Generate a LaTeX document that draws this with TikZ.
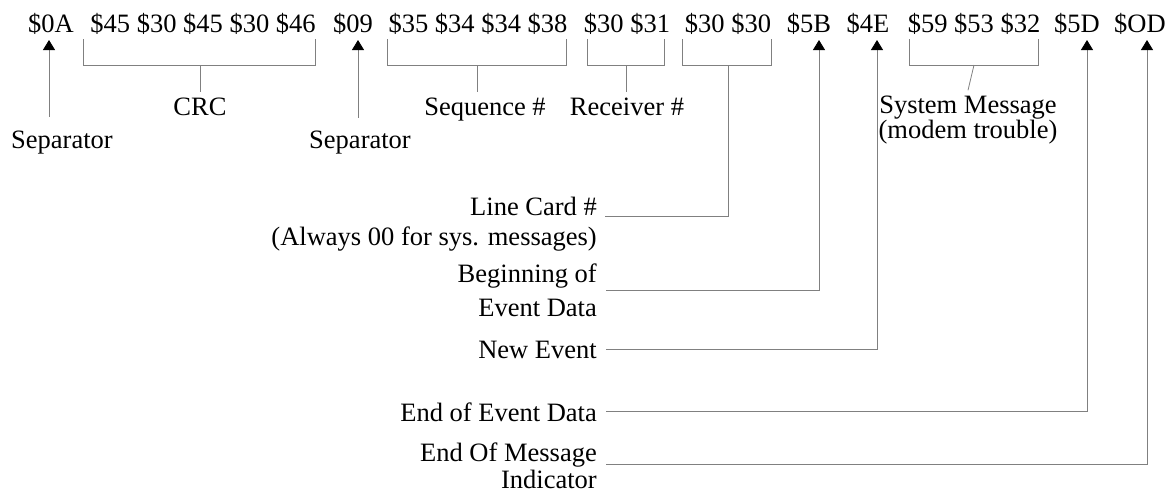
\documentclass[tikz,border=0pt]{standalone}
\usepackage{fontspec}
\setmainfont{Liberation Serif}
\usepackage{tikz}
\usetikzlibrary{arrows.meta,positioning,calc}
\definecolor{lgray}{HTML}{808080}

\begin{document}
\begin{tikzpicture}[x=1pt, y=-1pt, every node/.style={font=\fontsize{26.5}{30}\selectfont, inner sep=0pt}, hex/.style={anchor=base}, lbl/.style={anchor=base east, align=right}, ln/.style={draw=lgray, line width=0.8pt}, arr/.style={ln, {Triangle[width=12pt,length=10pt,color=black]}-}]
\useasboundingbox (0,0) rectangle (1171,493);
% message bytes
\node[hex] (h0A) at (51,32) {\$0A};
\node[hex] (crcb) at (203,32) {\$45 \$30 \$45 \$30 \$46};
\node[hex] (h09) at (353,32) {\$09};
\node[hex] (seqb) at (478,32) {\$35 \$34 \$34 \$38};
\node[hex] (rcvb) at (627,32) {\$30 \$31};
\node[hex] (lcb) at (728,32) {\$30 \$30};
\node[hex] (h5B) at (809,32) {\$5B};
\node[hex] (h4E) at (868,32) {\$4E};
\node[hex] (sysb) at (974,32) {\$59 \$53 \$32};
\node[hex] (h5D) at (1077,32) {\$5D};
\node[hex] (hOD) at (1140,32) {\$OD};
% labels under the bytes (base = last line)
\node[hex] (sep1) at (62,148) {Separator};
\node[hex] (crc) at (200,115) {CRC};
\node[hex] (sep2) at (360,148) {Separator};
\node[hex] (seq) at (485,115) {Sequence \#};
\node[hex] (rcv) at (627,115) {Receiver \#};
\node[hex, align=center] (sys) at (968,138) {System Message\\[-5pt](modem trouble)};
% labels on the left
\node[lbl] (lc) at (597,245) {Line Card \#\\(Always 00 for sys. messages)};
\node[lbl] (beg) at (597,316) {Beginning of\\[4pt]Event Data};
\node[lbl] (new) at (597,358) {New Event};
\node[lbl] (eed) at (597,421) {End of Event Data};
\node[lbl] (eom) at (597,488) {End Of Message\\[-3pt]Indicator};
% brackets
\draw[ln] (83,39) |- (315,65) -- (315,39); \draw[ln] (200,65) -- ([yshift=5pt]crc.north);
\draw[ln] (387,39) |- (566,65) -- (566,39); \draw[ln] (477,65) -- (477,92);
\draw[ln] (587,39) |- (664,65) -- (664,39); \draw[ln] (626,65) -- (626,92);
\draw[ln] (682,39) |- (771,65) -- (771,39); \draw[ln] (728,65) |- ([shift={(8,-29)}]lc.base east);
\draw[ln] (909,39) |- (1038,65) -- (1038,39); \draw[ln] (974,65) -- ([yshift=5pt]sys.north);
% arrows
\draw[arr] (49,40) -- (49,117);
\draw[arr] (358,40) -- (358,118);
\draw[arr] (819,40) |- ([shift={(9,-26)}]beg.base east);
\draw[arr] (877,40) |- ([xshift=9pt]new.east);
\draw[arr] (1087,40) |- ([xshift=9pt]eed.east);
\draw[arr] (1147,40) |- ([shift={(9,-24)}]eom.base east);
\end{tikzpicture}
\end{document}
